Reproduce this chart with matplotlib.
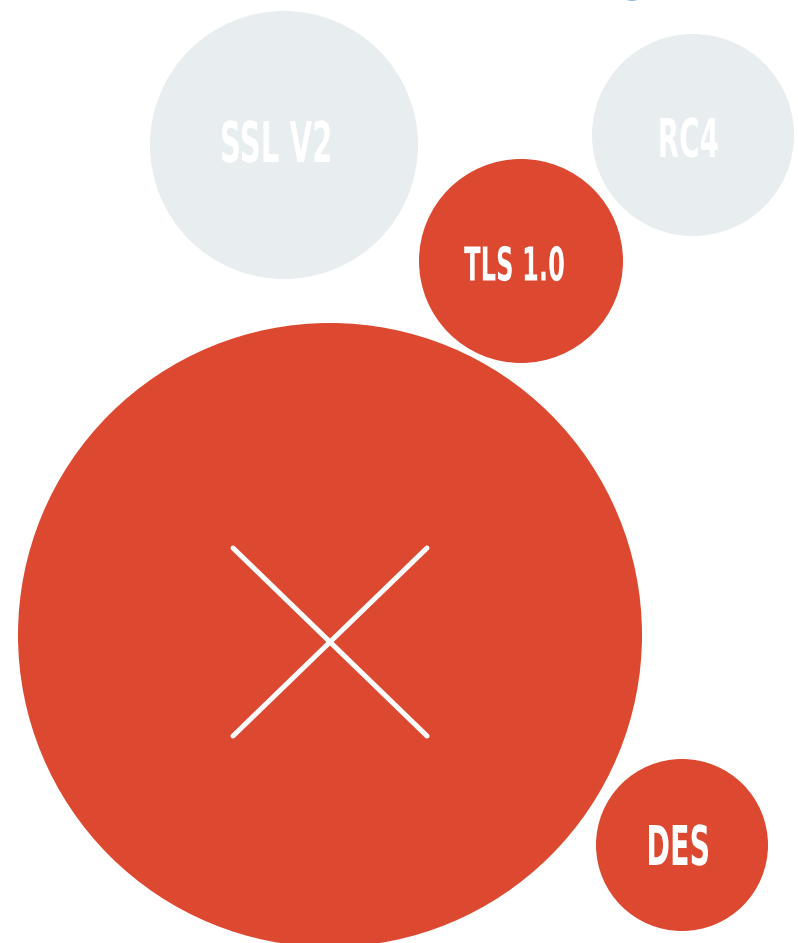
import matplotlib
matplotlib.use('Agg')
import matplotlib.pyplot as plt
from matplotlib.patches import Circle, PathPatch
from matplotlib.textpath import TextPath
from matplotlib.font_manager import FontProperties
from matplotlib.transforms import Affine2D

# bubble data
labels = ['SSL V2', 'RC4', 'TLS 1.0', '', 'DES', '']
radii = [134, 101, 102, 312, 86, 21]
groups = ['retired', 'retired', 'insecure', 'insecure', 'insecure', 'other']

# layout (pixel coords, y down)
centers_x = [284, 693, 521, 330, 682, 632]
centers_y = [145, 135, 261, 635, 845, -20.3]
label_x = [276, 689, 514, 0, 678.5, 0]
label_y = [141.5, 137.5, 263.5, 0, 845, 0]
cap_heights = [41, 39, 34, 0, 40, 0]

colors = {'retired': '#e8edef', 'insecure': '#dc4830', 'other': '#5b9bd5'}

W, H = 798, 943
fig = plt.figure(figsize=(W / 100, H / 100), dpi=100)
ax = fig.add_axes([0, 0, 1, 1])
ax.set_xlim(0, W)
ax.set_ylim(H, 0)
ax.set_aspect('equal')
ax.axis('off')

prop = FontProperties(family='DejaVu Sans', weight='bold')
squeeze = 0.52  # condensed look
cap = TextPath((0, 0), 'H', size=1, prop=prop).get_extents().y1

for i, lab in enumerate(labels):
    ax.add_patch(Circle((centers_x[i], centers_y[i]), radii[i], color=colors[groups[i]], lw=0))
    if not lab:
        continue
    tp = TextPath((0, 0), lab, size=1, prop=prop)
    ext = tp.get_extents()
    s = cap_heights[i] / cap
    tr = (Affine2D()
          .translate(-(ext.x0 + ext.x1) / 2, -cap / 2)
          .scale(s * squeeze, -s)
          .translate(label_x[i], label_y[i]))
    ax.add_patch(PathPatch(tr.transform_path(tp), color='white', lw=0))

# the cross on the big bubble
cx, cy = 330, 642
ax.plot([cx - 97, cx + 97], [cy - 94, cy + 94], color='white', lw=3.6, solid_capstyle='round')
ax.plot([cx - 97, cx + 97], [cy + 94, cy - 94], color='white', lw=3.6, solid_capstyle='round')

fig.savefig('out.png', dpi=100)
plt.close()
